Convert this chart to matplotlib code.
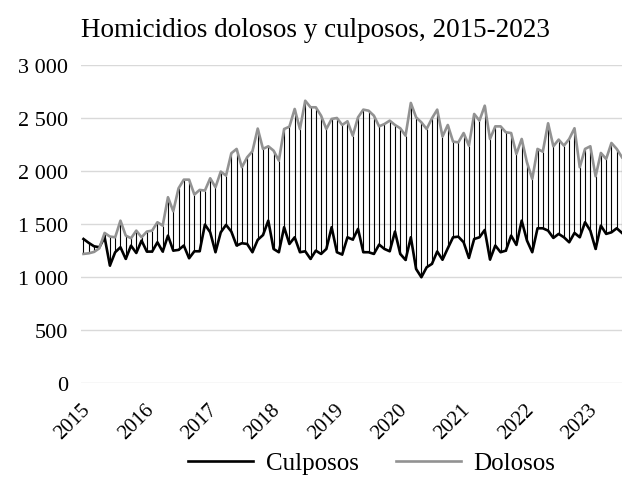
import numpy as np
import matplotlib.pyplot as plt
from matplotlib.ticker import FuncFormatter
from matplotlib.transforms import ScaledTranslation

# Datos mensuales, enero 2015 - julio 2023
dolosos = [1217, 1223, 1236, 1270, 1415, 1381, 1374, 1531, 1390, 1365, 1437, 1374,
           1428, 1437, 1516, 1484, 1752, 1620, 1836, 1918, 1918, 1777, 1821, 1815,
           1931, 1846, 1994, 1956, 2167, 2208, 2035, 2129, 2186, 2400, 2208, 2233,
           2192, 2098, 2396, 2418, 2585, 2396, 2663, 2601, 2601, 2522, 2396, 2491,
           2500, 2434, 2469, 2333, 2506, 2579, 2569, 2522, 2421, 2443, 2475, 2434,
           2403, 2333, 2642, 2506, 2459, 2396, 2497, 2579, 2325, 2434, 2277, 2270,
           2358, 2239, 2538, 2475, 2616, 2302, 2421, 2421, 2365, 2358, 2160, 2302,
           2080, 1925, 2208, 2182, 2450, 2233, 2296, 2239, 2302, 2403, 2035, 2208,
           2233, 1950, 2170, 2113, 2264, 2208, 2129]
culposos = [1358, 1321, 1289, 1280, 1374, 1107, 1233, 1280, 1170, 1295, 1226, 1343,
            1239, 1239, 1327, 1239, 1390, 1248, 1255, 1296, 1176, 1242, 1242, 1494,
            1421, 1233, 1421, 1491, 1428, 1296, 1318, 1311, 1233, 1350, 1395, 1531,
            1264, 1233, 1469, 1311, 1374, 1233, 1242, 1170, 1248, 1217, 1264, 1469,
            1233, 1211, 1374, 1352, 1453, 1233, 1233, 1217, 1305, 1264, 1242, 1428,
            1217, 1160, 1374, 1075, 997, 1091, 1123, 1240, 1162, 1270, 1374, 1380,
            1327, 1179, 1358, 1374, 1443, 1164, 1296, 1233, 1248, 1390, 1302, 1531,
            1343, 1233, 1459, 1459, 1437, 1368, 1406, 1374, 1327, 1415, 1374, 1516,
            1437, 1264, 1484, 1406, 1421, 1459, 1415]
years = ['2015', '2016', '2017', '2018', '2019', '2020', '2021', '2022', '2023']

plt.rcParams['font.family'] = ['Liberation Serif', 'DejaVu Serif']

x = np.arange(len(dolosos))

fig = plt.figure(figsize=(6.22, 4.89), dpi=100)
ax = fig.add_axes([0.130, 0.215, 0.870, 0.650])

ax.vlines(x, culposos, dolosos, color='black', lw=0.8, zorder=2)
ax.plot(x, culposos, color='black', lw=1.9, label='Culposos', zorder=3)
ax.plot(x, dolosos, color='#929292', lw=1.9, label='Dolosos', zorder=3)

ax.set_ylim(0, 3000)
ax.set_xlim(-0.5, len(dolosos) - 1)
ax.set_yticks(range(0, 3001, 500))
ax.yaxis.set_major_formatter(FuncFormatter(lambda v, p: f'{v:,.0f}'.replace(',', ' ')))
ax.grid(axis='y', color='#d9d9d9', lw=1)
ax.set_axisbelow(True)
for s in ax.spines.values():
    s.set_visible(False)

ax.set_xticks(range(0, len(dolosos), 12))
ax.set_xticklabels(years, rotation=45, ha='right', va='center', rotation_mode='anchor')
ax.tick_params(axis='both', length=0, labelsize=15)
ax.tick_params(axis='y', pad=9, labelsize=16)
ax.tick_params(axis='x', pad=17)
off = ScaledTranslation(4 / 100, 0, fig.dpi_scale_trans)
for lab in ax.get_xticklabels():
    lab.set_transform(lab.get_transform() + off)

fig.text(0.507, 0.937, 'Homicidios dolosos y culposos, 2015-2023', ha='center', va='center', fontsize=19.5)

fig.legend(loc='center', bbox_to_anchor=(0.598, 0.051), ncol=2, frameon=False,
           fontsize=18, handlelength=2.6, columnspacing=1.5, handletextpad=0.5)

fig.savefig('out.png', dpi=100)
